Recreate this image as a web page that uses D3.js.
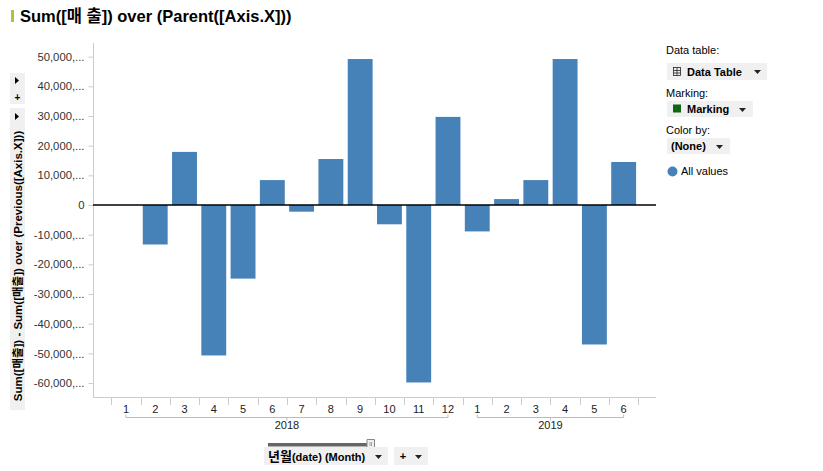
<!DOCTYPE html>
<html><head><meta charset="utf-8">
<script src="https://cdn.jsdelivr.net/npm/d3@7/dist/d3.min.js"></script>
<style>
body{margin:0;background:#fff;}
svg{display:block;font-family:"Liberation Sans",Arial,"Noto Sans CJK KR",sans-serif;}
</style></head><body>
<svg id="c" width="823" height="471"></svg>
<script>
// ---- data ----
const years = ["2018", "2019"];
const months2018 = ["1","2","3","4","5","6","7","8","9","10","11","12"];
const months2019 = ["1","2","3","4","5","6"];
const values2018 = [null, -13300, 17900, -50700, -24800, 8400, -2250, 15500, 49200, -6500, -59800, 29700];
const values2019 = [-8900, 2000, 8400, 49200, -47000, 14500];
const yTickValues = [50000, 40000, 30000, 20000, 10000, 0, -10000, -20000, -30000, -40000, -50000, -60000];
const yTickLabels = ["50,000,...","40,000,...","30,000,...","20,000,...","10,000,...","0","-10,000,...","-20,000,...","-30,000,...","-40,000,...","-50,000,...","-60,000,..."];
const titleText = "Sum([매 출]) over (Parent([Axis.X]))";
const yTitleText = "Sum([매출]) - Sum([매출]) over (Previous([Axis.X]))";
const xTitleKo = "년월";
const xTitleRest = "(date) (Month)";

const rows = [];
months2018.forEach((m,i)=>rows.push({year:"2018", month:m, key:"2018-"+m, value:values2018[i]}));
months2019.forEach((m,i)=>rows.push({year:"2019", month:m, key:"2019-"+m, value:values2019[i]}));

const svg = d3.select("#c");
const plotL = 93, plotR = 656, plotT = 43, plotB = 397;

const x = d3.scaleBand().domain(rows.map(d=>d.key)).range([111.3, 638.3]).paddingInner(0.15).paddingOuter(0.075);
const step = x.step();
const y = d3.scaleLinear().domain([-64700, 54600]).range([plotB, plotT]);

// title
svg.append("rect").attr("x",11).attr("y",10).attr("width",3).attr("height",12).attr("fill","#a5c93a");
svg.append("text").attr("x",20).attr("y",22).attr("font-size",16.5).attr("font-weight","bold").attr("fill","#000").text(titleText);

// axes frame
const g = svg.append("g");
g.append("line").attr("x1",plotL+0.5).attr("x2",plotL+0.5).attr("y1",plotT).attr("y2",plotB).attr("stroke","#ccc");
g.append("line").attr("x1",plotL).attr("x2",plotR).attr("y1",plotB+0.5).attr("y2",plotB+0.5).attr("stroke","#ccc");

// y axis
const yAxis = d3.axisLeft(y).tickValues(yTickValues).tickSize(5).tickPadding(4)
  .tickFormat((d,i)=>yTickLabels[i]);
const ya = g.append("g").attr("transform",`translate(${plotL+0.5},0)`).call(yAxis);
ya.select(".domain").remove();
ya.selectAll(".tick line").attr("stroke","#ccc");
ya.selectAll(".tick text").attr("fill","#333").attr("font-size",11.3).attr("font-family","Liberation Sans, Arial, sans-serif");

// bars
g.selectAll("rect.bar").data(rows.filter(d=>d.value!=null)).join("rect").attr("class","bar")
  .attr("x",d=>x(d.key)).attr("width",x.bandwidth())
  .attr("y",d=>y(Math.max(0,d.value))).attr("height",d=>Math.abs(y(d.value)-y(0)))
  .attr("fill","#4682b8");

// zero line
g.append("line").attr("x1",plotL).attr("x2",plotR).attr("y1",y(0)).attr("y2",y(0)).attr("stroke","#000").attr("stroke-width",1.3);

// x category separators
const sepX = rows.map(d=>x(d.key)-step*x.paddingInner()/2);
sepX.push(x(rows[rows.length-1].key)+x.bandwidth()+step*x.paddingInner()/2);
g.selectAll("line.sep").data(sepX).join("line").attr("class","sep")
  .attr("x1",d=>Math.round(d)+0.5).attr("x2",d=>Math.round(d)+0.5).attr("y1",plotB).attr("y2",plotB+8).attr("stroke","#ccc");

// month labels
g.selectAll("text.m").data(rows).join("text").attr("class","m")
  .attr("x",d=>x(d.key)+x.bandwidth()/2).attr("y",413).attr("text-anchor","middle")
  .attr("font-size",11).attr("fill","#222").text(d=>d.month);

// year brackets
years.forEach(yr=>{
  const rs = rows.filter(d=>d.year===yr);
  const x1 = x(rs[0].key)+x.bandwidth()/2, x2 = x(rs[rs.length-1].key)+x.bandwidth()/2;
  const cx = (x1+x2)/2;
  const by = 417.5;
  g.append("path").attr("d",`M${x1},${by-3}V${by}H${x2}V${by-3}M${cx},${by}V${by+3}`)
    .attr("fill","none").attr("stroke","#bbb");
  g.append("text").attr("x",cx).attr("y",429).attr("text-anchor","middle").attr("font-size",11).attr("fill","#222").text(yr);
});

// y title boxes
svg.append("rect").attr("x",10).attr("y",73).attr("width",15).attr("height",31).attr("fill","#f0f0f0");
svg.append("path").attr("d","M15,77L19,80.5L15,84Z").attr("fill","#000");
svg.append("text").attr("x",17.5).attr("y",101).attr("text-anchor","middle").attr("font-size",10).attr("font-weight","bold").text("+");
svg.append("rect").attr("x",10).attr("y",108).attr("width",15).attr("height",302).attr("fill","#f0f0f0");
svg.append("path").attr("d","M15,113L19,116.5L15,120Z").attr("fill","#000");
svg.append("text").attr("transform","translate(21.5,266) rotate(-90)").attr("text-anchor","middle")
  .attr("font-size",11.5).attr("font-weight","bold").attr("fill","#000").text(yTitleText);

// legend
const lg = svg.append("g").attr("font-size",11).attr("fill","#000");
lg.append("text").attr("x",666).attr("y",54).text("Data table:");
lg.append("rect").attr("x",667).attr("y",63).attr("width",100).attr("height",17).attr("fill","#f0f0f0");
// table icon
const ti = lg.append("g").attr("fill","none").attr("stroke","#222").attr("stroke-width",0.8);
ti.append("rect").attr("x",673.5).attr("y",67.5).attr("width",7).attr("height",8);
ti.append("path").attr("d","M673.5,70.5H680.5M673.5,73H680.5M677,67.5V75.5");
lg.append("text").attr("x",687).attr("y",76).attr("font-weight","bold").text("Data Table");
lg.append("path").attr("d","M754,70H761L757.5,74Z").attr("fill","#222");

lg.append("text").attr("x",666).attr("y",97).text("Marking:");
lg.append("rect").attr("x",667).attr("y",101).attr("width",86).attr("height",16).attr("fill","#f0f0f0");
lg.append("rect").attr("x",673).attr("y",104.5).attr("width",8).attr("height",8).attr("fill","#116611");
lg.append("text").attr("x",687).attr("y",113).attr("font-weight","bold").text("Marking");
lg.append("path").attr("d","M739,108H746L742.5,112Z").attr("fill","#222");

lg.append("text").attr("x",666).attr("y",134).text("Color by:");
lg.append("rect").attr("x",667).attr("y",138).attr("width",63).attr("height",16).attr("fill","#f0f0f0");
lg.append("text").attr("x",671).attr("y",150).attr("font-weight","bold").text("(None)");
lg.append("path").attr("d","M716,145H723L719.5,149Z").attr("fill","#222");

lg.append("circle").attr("cx",672.5).attr("cy",171.5).attr("r",5).attr("fill","#4682b8");
lg.append("text").attr("x",681).attr("y",175).text("All values");

// bottom x controls
svg.append("rect").attr("x",268).attr("y",443).attr("width",101).attr("height",3.5).attr("fill","#666");
svg.append("path").attr("d","M367,439.5H374.5V447L370.75,450.5L367,447Z").attr("fill","#eee").attr("stroke","#888");
svg.append("path").attr("d","M370,442V446M371.5,442V446").attr("stroke","#888").attr("stroke-width",0.7);
svg.append("rect").attr("x",264).attr("y",447).attr("width",124).attr("height",18).attr("fill","#f0f0f0");
const xt = svg.append("text").attr("x",268).attr("y",461).attr("font-weight","bold").attr("fill","#000");
xt.append("tspan").attr("font-size",13).attr("font-family","Noto Sans CJK KR, sans-serif").text(xTitleKo);
xt.append("tspan").attr("font-size",11).text(xTitleRest);
svg.append("path").attr("d","M375,455H382L378.5,459Z").attr("fill","#222");
svg.append("rect").attr("x",394).attr("y",447).attr("width",34).attr("height",18).attr("fill","#f0f0f0");
svg.append("text").attr("x",403).attr("y",460).attr("text-anchor","middle").attr("font-size",11).attr("font-weight","bold").text("+");
svg.append("path").attr("d","M415,455H422L418.5,459Z").attr("fill","#222");
</script>
</body></html>
